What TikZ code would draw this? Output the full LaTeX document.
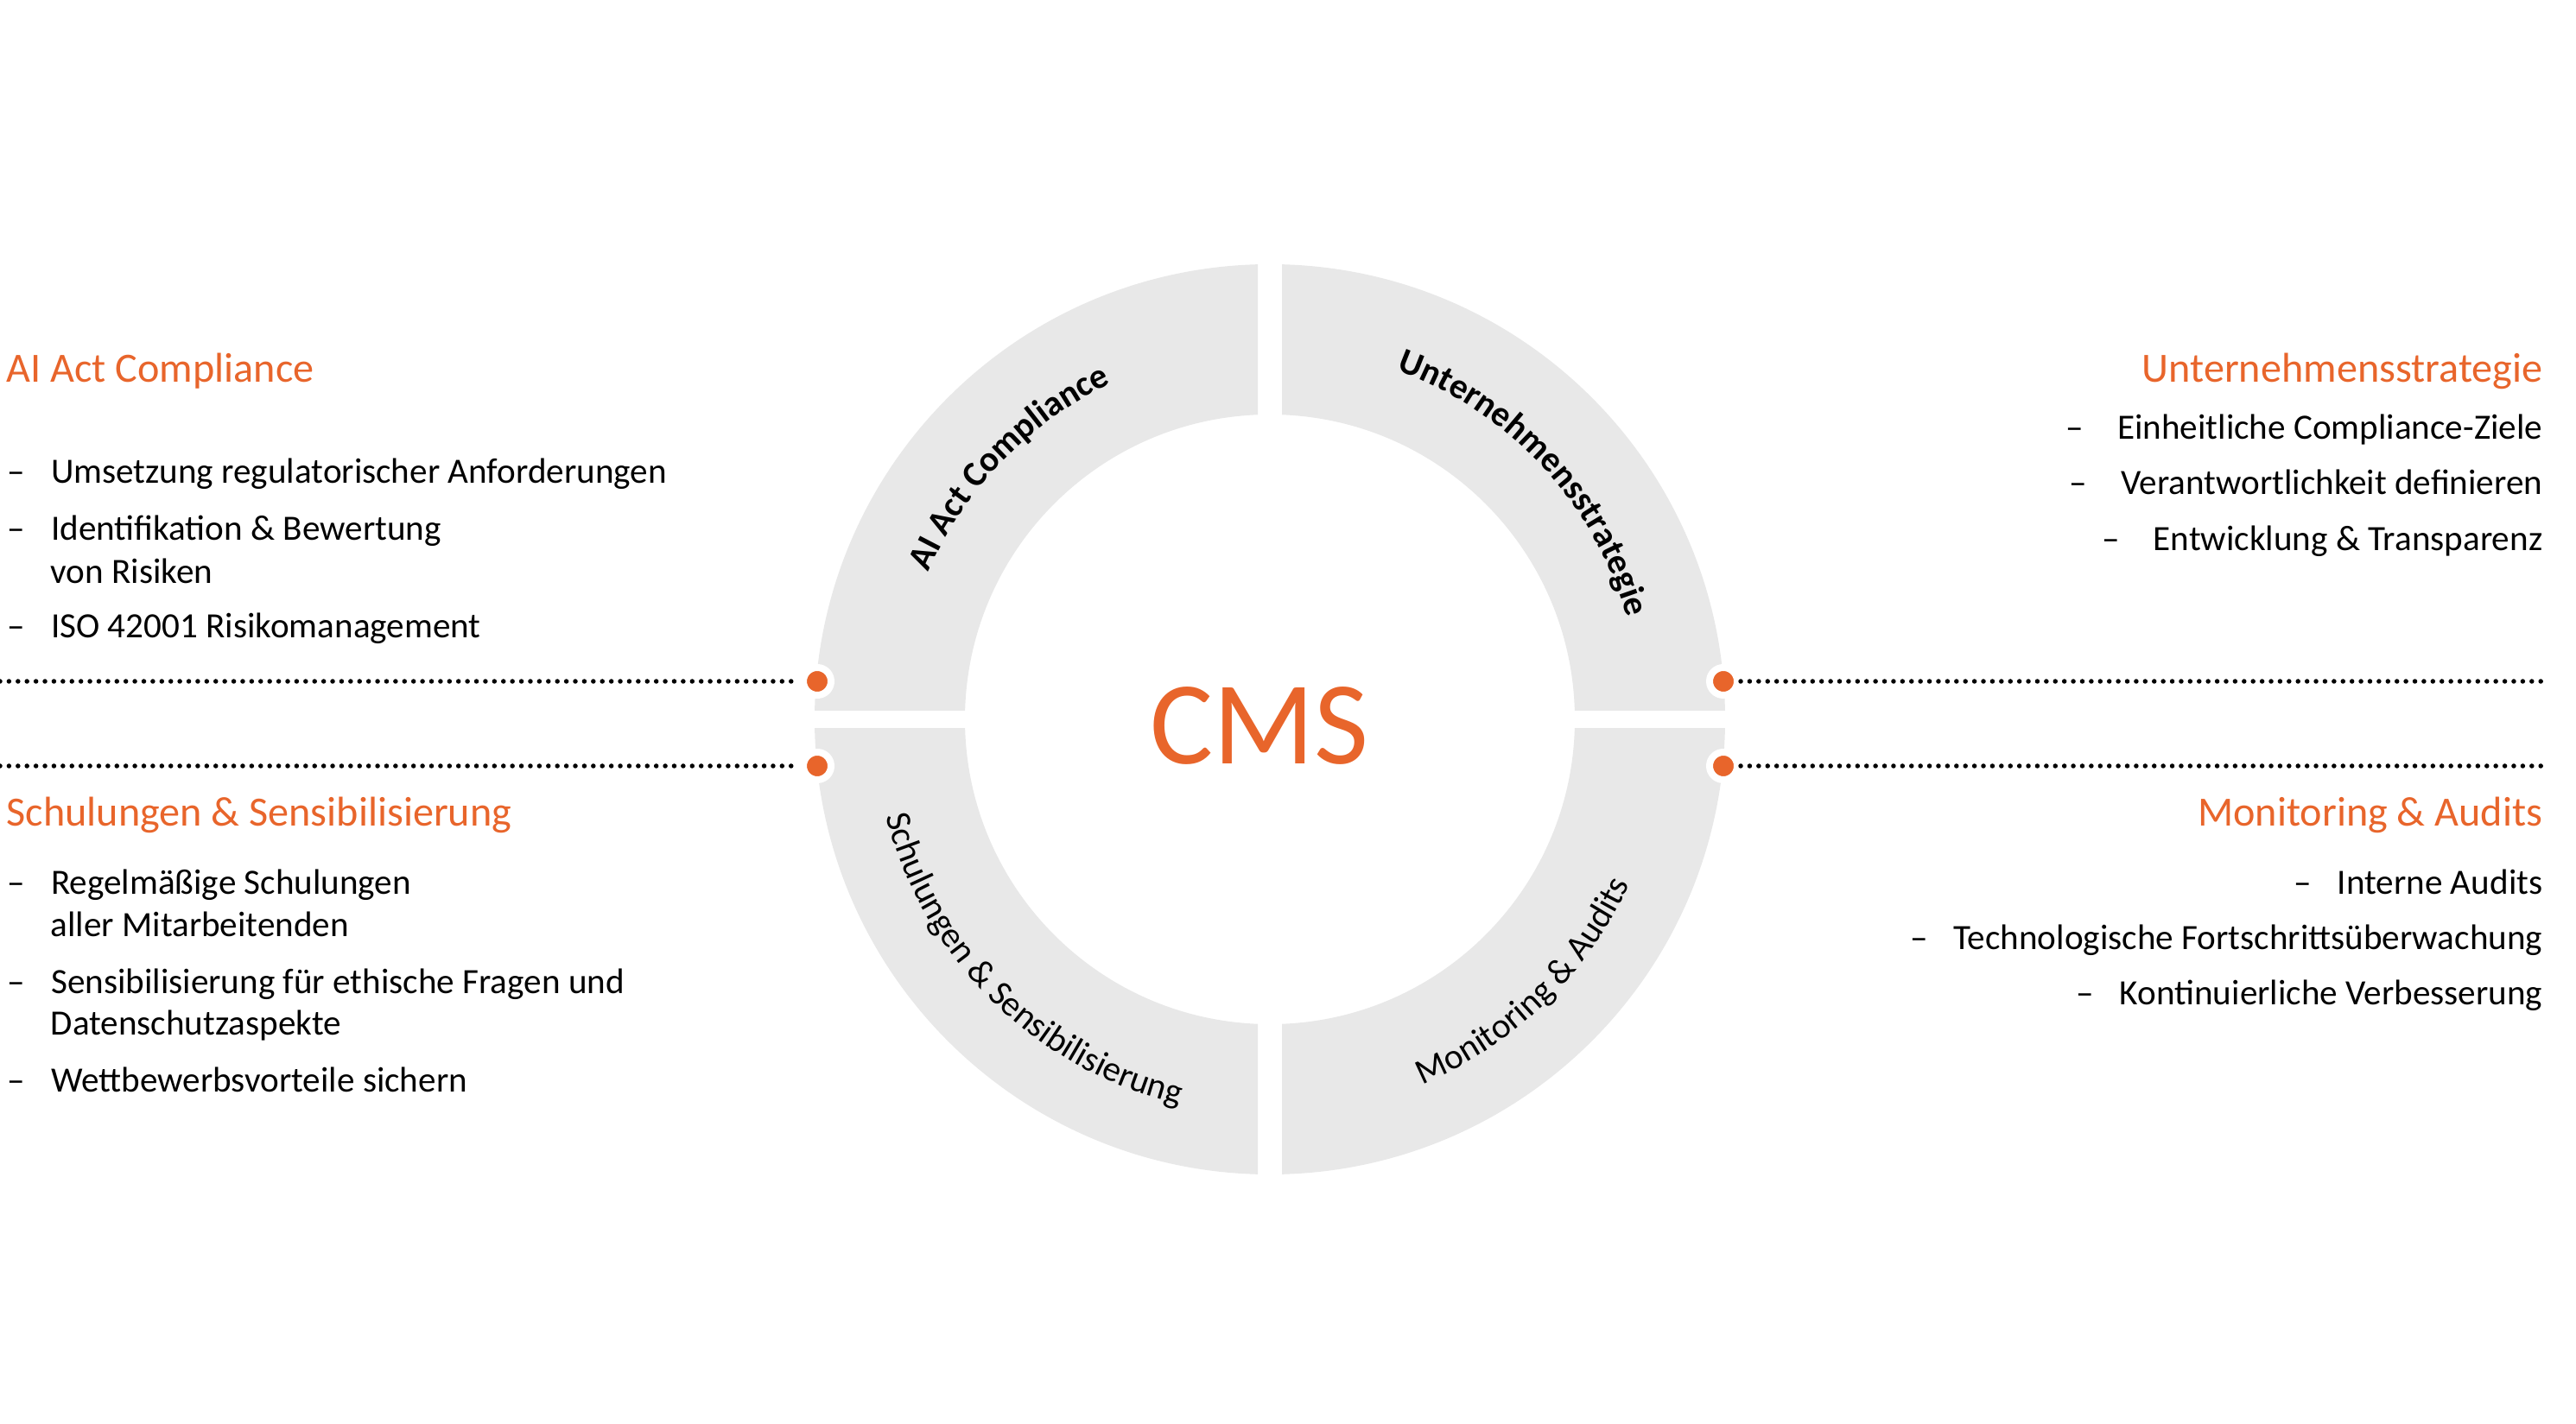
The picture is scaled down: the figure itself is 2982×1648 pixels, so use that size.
\documentclass[tikz,border=0pt]{standalone}
\usepackage{fontspec}
\setmainfont{Carlito}
\usetikzlibrary{positioning,decorations.text}
\definecolor{Brand}{HTML}{E8652B}
\definecolor{RingGray}{HTML}{E8E8E8}
\newcommand{\ringfont}{\fontsize{11.7}{14}\selectfont}
\newcommand{\dashgap}[1]{\textendash\hspace{#1}}

\begin{document}
\begin{tikzpicture}[x=0.01cm,y=0.01cm,
  head/.style={inner sep=0,text=Brand,font=\fontsize{13.7}{16}\selectfont},
  body/.style={inner sep=0,font=\fontsize{11.7}{14}\selectfont},
  pindot/.style={circle,fill=Brand,draw=white,line width=0.08cm,minimum size=0.32cm,inner sep=0},
  dotline/.style={line width=0.055cm,dash pattern=on 0pt off 0.104cm,line cap=round}]
  \useasboundingbox (0,0) rectangle (2982,1648);
  \coordinate (c) at (1470,815);
  \foreach \sx/\sy in {1/1,-1/1,-1/-1,1/-1}{
    \begin{scope}
      \clip (1470+\sx*14,815+\sy*10.5) rectangle (1470+\sx*600,815+\sy*600);
      \fill[RingGray,even odd rule] (c) circle (527) (c) circle (353);
    \end{scope}
  }
  \node[text=Brand,font=\fontsize{39}{46}\selectfont,anchor=base,inner sep=0] (cms) at (1458,763) {CMS};

  \path[decorate,decoration={text along path,text align=center,text={|\ringfont\bfseries|AI Act Compliance}}]
    (c) ++(180:430) arc[start angle=180,end angle=92,radius=430];
  \path[decorate,decoration={text along path,text align=center,text={|\ringfont\bfseries|Unternehmensstrategie}}]
    (c) ++(88:430) arc[start angle=88,end angle=-2,radius=430];
  \path[decorate,decoration={text along path,text align=center,text={|\ringfont|Schulungen {\&} Sensibilisierung}}]
    (c) ++(182:458) arc[start angle=182,end angle=269,radius=458];
  \path[decorate,decoration={text along path,text align=center,text={|\ringfont|Monitoring {\&} Audits}}]
    (c) ++(272:458) arc[start angle=272,end angle=356,radius=458];

  \node[pindot] (dAI) at (946,859) {};
  \node[pindot] (dSch) at (946,761) {};
  \node[pindot] (dUS) at (1995,859) {};
  \node[pindot] (dMon) at (1995,761) {};
  \coordinate (eAI) at (0,859);
  \coordinate (eSch) at (0,761);
  \coordinate (eUS) at (2944,859);
  \coordinate (eMon) at (2944,761);
  \draw[dotline] (eAI) -- (dAI);
  \draw[dotline] (eSch) -- (dSch);
  \draw[dotline] (dUS) -- (eUS);
  \draw[dotline] (dMon) -- (eMon);

  \node[head,anchor=base west] (hAI) at (7,1205) {AI Act Compliance};
  \foreach \y/\s [count=\i] in {1088/Umsetzung regulatorischer Anforderungen,1022/Identifikation \& Bewertung,909/ISO 42001 Risikomanagement}
    \node[body,anchor=base west] (ai\i) at (8,\y) {\dashgap{0.3cm}\s};
  \node[body,anchor=base west] (ai2b) at (58,972) {von Risiken};

  \node[head,anchor=base west] (hSch) at (7,691) {Schulungen \& Sensibilisierung};
  \foreach \y/\s [count=\i] in {612/Regelmäßige Schulungen,498/Sensibilisierung für ethische Fragen und,384/Wettbewerbsvorteile sichern}
    \node[body,anchor=base west] (sch\i) at (8,\y) {\dashgap{0.3cm}\s};
  \node[body,anchor=base west] (sch1b) at (58,563) {aller Mitarbeitenden};
  \node[body,anchor=base west] (sch2b) at (58,449) {Datenschutzaspekte};

  \node[head,anchor=base east] (hUS) at (2944,1205) {Unternehmensstrategie};
  \foreach \y/\s [count=\i] in {1139/Einheitliche Compliance-Ziele,1075/Verantwortlichkeit definieren,1010/Entwicklung \& Transparenz}
    \node[body,anchor=base east] (us\i) at (2944,\y) {\dashgap{0.39cm}\s};

  \node[head,anchor=base east] (hMon) at (2944,691) {Monitoring \& Audits};
  \foreach \y/\s [count=\i] in {612/Interne Audits,548/Technologische Fortschrittsüberwachung,485/Kontinuierliche Verbesserung}
    \node[body,anchor=base east] (mon\i) at (2944,\y) {\dashgap{0.3cm}\s};
\end{tikzpicture}
\end{document}
